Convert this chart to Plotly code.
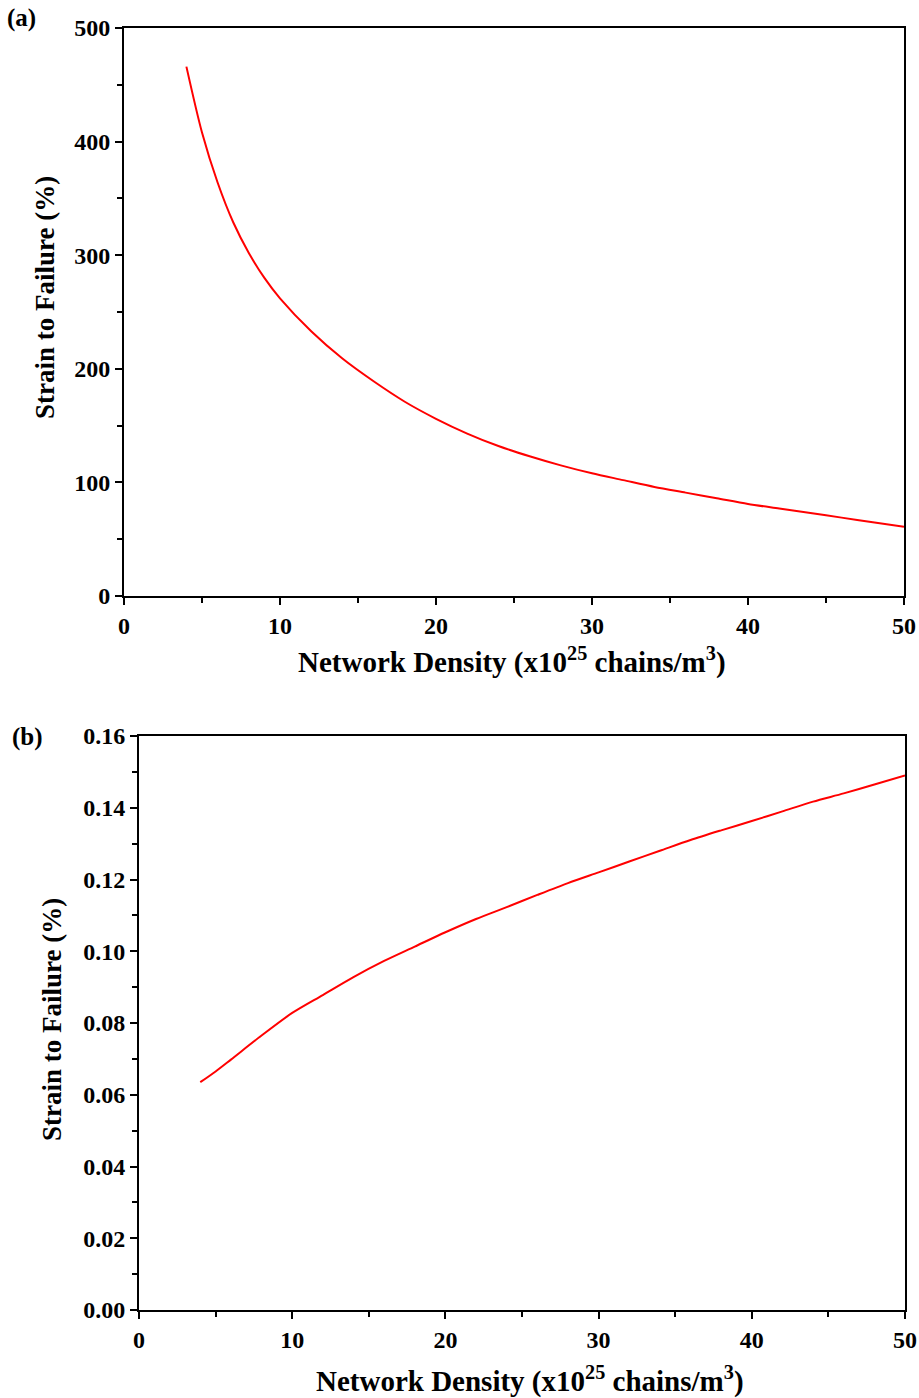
import plotly.graph_objects as go

# Panel (a)
density_a = [4, 5, 6, 7, 8, 9, 10, 12, 14, 16, 18, 20, 22, 24, 26, 28, 30, 32, 34, 36, 38, 40, 42, 44, 46, 48, 50]
strain_a = [466, 408, 364, 329, 302, 280, 262, 233, 209, 189, 171, 156, 143, 132, 123, 115, 108, 102, 96, 91, 86, 81, 77, 73, 69, 65, 61]

# Panel (b)
density_b = [4, 5, 6, 8, 10, 12, 14, 16, 18, 20, 22, 24, 26, 28, 30, 32, 34, 36, 38, 40, 42, 44, 46, 48, 50]
strain_b = [0.0635, 0.0665, 0.0698, 0.0765, 0.0828, 0.0878, 0.0928, 0.0973, 0.1013, 0.1053, 0.1090, 0.1123, 0.1157, 0.1190, 0.1220, 0.1250, 0.1280, 0.1310, 0.1337, 0.1363, 0.1390, 0.1417, 0.1440, 0.1465, 0.1490]

ticks_a = [0, 100, 200, 300, 400, 500]
ticks_b = [0.00, 0.02, 0.04, 0.06, 0.08, 0.10, 0.12, 0.14, 0.16]
ticks_x = [0, 10, 20, 30, 40, 50]

FONT = "Liberation Serif"
W, H = 919, 1398
ML, MR, MT, MB = 80, 4, 20, 4
PW, PH = W - ML - MR, H - MT - MB

def px(x):
    return (x - ML) / PW

def py(y):
    return (H - MB - y) / PH

fig = go.Figure()
fig.add_trace(go.Scatter(x=density_a, y=strain_a, mode="lines",
                         line=dict(color="#ff0000", width=2, shape="spline", smoothing=0.8),
                         xaxis="x", yaxis="y", showlegend=False))
fig.add_trace(go.Scatter(x=density_b, y=strain_b, mode="lines",
                         line=dict(color="#ff0000", width=2, shape="spline", smoothing=0.8),
                         xaxis="x2", yaxis="y2", showlegend=False))

axcommon = dict(showline=True, linecolor="black", linewidth=2, mirror=True, ticks="outside", ticklen=7, tickwidth=2,
                tickcolor="black", showgrid=False, zeroline=False, automargin=False, ticklabeloverflow="allow",
                tickfont=dict(family=FONT, size=24, color="black", weight="bold"))
minor_x = dict(ticks="outside", dtick=5, ticklen=5, tickwidth=2, tickcolor="black")

fig.update_layout(
    width=W, height=H, margin=dict(l=ML, r=MR, t=MT, b=MB),
    plot_bgcolor="white", paper_bgcolor="white",
    xaxis=dict(domain=[px(124), px(904)], anchor="y", range=[0, 50], tickvals=ticks_x, minor=minor_x, **axcommon),
    yaxis=dict(domain=[py(596), py(28)], anchor="x", range=[0, 500], tickvals=ticks_a,
               minor=dict(ticks="outside", dtick=50, ticklen=5, tickwidth=2, tickcolor="black"), **axcommon),
    xaxis2=dict(domain=[px(139), px(905)], anchor="y2", range=[0, 50], tickvals=ticks_x, minor=minor_x, **axcommon),
    yaxis2=dict(domain=[py(1310), py(736)], anchor="x2", range=[0, 0.16], tickvals=ticks_b, tickformat=".2f",
                minor=dict(ticks="outside", dtick=0.01, ticklen=5, tickwidth=2, tickcolor="black"), **axcommon),
)

xtitle = "Network Density (x10<sup>25</sup> chains/m<sup>3</sup>)"
ytitle = "Strain to Failure (%)"

def ann(text, x, y, angle=0, size=25):
    fig.add_annotation(text=text, x=px(x), y=py(y), xref="paper", yref="paper", showarrow=False,
                       textangle=angle, font=dict(family=FONT, size=size, color="black", weight="bold"),
                       xanchor="center", yanchor="middle")

ann(xtitle, 512, 660, size=29)
ann(xtitle, 530, 1379, size=29)
ann(ytitle, 45, 298, angle=-90, size=27)
ann(ytitle, 52, 1020, angle=-90, size=27)
ann("(a)", 21, 18, size=25)
ann("(b)", 27, 737, size=25)

fig.write_html("out.html", config={"displayModeBar": False},
               post_script="document.body.style.margin='0';document.body.style.overflow='hidden';")
